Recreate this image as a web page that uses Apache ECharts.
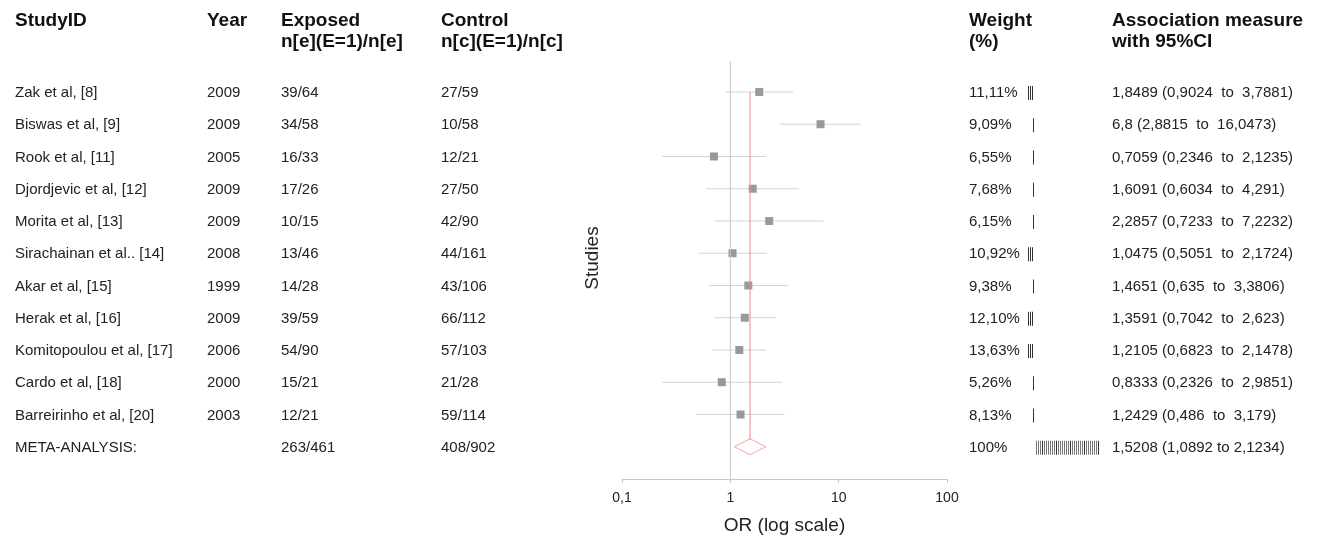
<!DOCTYPE html>
<html>
<head>
<meta charset="utf-8">
<script src="https://cdn.jsdelivr.net/npm/echarts@6/dist/echarts.min.js"></script>
<style>
  html, body { margin: 0; padding: 0; background: #fff; }
  #chart { width: 1326px; height: 537px; }
</style>
</head>
<body>
<div id="chart"></div>
<script>
// forest plot data
const studies = ['Zak et al, [8]', 'Biswas et al, [9]', 'Rook et al, [11]', 'Djordjevic et al, [12]', 'Morita et al, [13]',
  'Sirachainan et al.. [14]', 'Akar et al, [15]', 'Herak et al, [16]', 'Komitopoulou et al, [17]', 'Cardo et al, [18]',
  'Barreirinho et al, [20]', 'META-ANALYSIS:']
const years = ['2009', '2009', '2005', '2009', '2009', '2008', '1999', '2009', '2006', '2000', '2003', '']
const exposed = ['39/64', '34/58', '16/33', '17/26', '10/15', '13/46', '14/28', '39/59', '54/90', '15/21', '12/21', '263/461']
const control = ['27/59', '10/58', '12/21', '27/50', '42/90', '44/161', '43/106', '66/112', '57/103', '21/28', '59/114', '408/902']
const weights = ['11,11%', '9,09%', '6,55%', '7,68%', '6,15%', '10,92%', '9,38%', '12,10%', '13,63%', '5,26%', '8,13%', '100%']
const barCounts = [3, 1, 1, 1, 1, 3, 1, 3, 3, 1, 1, 32]
const orValues = [1.8489, 6.8, 0.7059, 1.6091, 2.2857, 1.0475, 1.4651, 1.3591, 1.2105, 0.8333, 1.2429]
const ciLow = [0.9024, 2.8815, 0.2346, 0.6034, 0.7233, 0.5051, 0.635, 0.7042, 0.6823, 0.2326, 0.486]
const ciHigh = [3.7881, 16.0473, 2.1235, 4.291, 7.2232, 2.1724, 3.3806, 2.623, 2.1478, 2.9851, 3.179]
const meta = { or: 1.5208, lo: 1.0892, hi: 2.1234 }

const font = "'Liberation Sans', Arial, sans-serif"
const metaRow = studies.length - 1
const fmt = (v) => String(v).replace('.', ',')
const assoc = orValues.map((v, i) => fmt(v) + ' (' + fmt(ciLow[i]) + '  to  ' + fmt(ciHigh[i]) + ')')
assoc.push(fmt(meta.or) + ' (' + fmt(meta.lo) + ' to ' + fmt(meta.hi) + ')')

// text columns: pixel x, text per row
const columns = [
  { x: 15, list: studies },
  { x: 207, list: years },
  { x: 281, list: exposed },
  { x: 441, list: control },
  { x: 969, list: weights },
  { x: 1112, list: assoc }
]
const headers = [
  { x: 15, lines: ['StudyID'] },
  { x: 207, lines: ['Year'] },
  { x: 281, lines: ['Exposed', 'n[e](E=1)/n[e]'] },
  { x: 441, lines: ['Control', 'n[c](E=1)/n[c]'] },
  { x: 969, lines: ['Weight', '(%)'] },
  { x: 1112, lines: ['Association measure', 'with 95%CI'] }
]

const chart = echarts.init(document.getElementById('chart'))

const headerGraphics = []
headers.forEach((h) => {
  h.lines.forEach((t, k) => {
    headerGraphics.push({
      type: 'text',
      left: h.x,
      top: 11 + k * 21,
      style: { text: t, font: 'bold 19px ' + font, fill: '#111' }
    })
  })
})
headerGraphics.push({
  type: 'text',
  x: 593,
  y: 258,
  rotation: Math.PI / 2,
  style: { text: 'Studies', font: '19px ' + font, fill: '#222', align: 'center', verticalAlign: 'middle' }
})

const option = {
  animation: false,
  grid: { left: 622, right: 379, top: 61, bottom: 58, outerBoundsMode: 'none' },
  xAxis: {
    type: 'log',
    logBase: 10,
    min: 0.1,
    max: 100,
    name: 'OR (log scale)',
    nameLocation: 'middle',
    nameGap: 37,
    nameTextStyle: { fontFamily: font, fontSize: 19, color: '#222' },
    axisLine: { onZero: false, lineStyle: { color: '#c8c8c8' } },
    axisTick: { show: true, length: 4, lineStyle: { color: '#c8c8c8' } },
    minorTick: { show: false },
    splitLine: { show: false },
    axisLabel: {
      fontFamily: font,
      fontSize: 14,
      color: '#222',
      margin: 12,
      formatter: (v) => fmt(v)
    }
  },
  yAxis: {
    type: 'value',
    inverse: true,
    min: -0.96,
    max: 12,
    show: false
  },
  graphic: headerGraphics,
  series: [
    {
      // reference line at OR = 1
      type: 'line',
      data: [[1, -0.96], [1, 12]],
      symbol: 'none',
      lineStyle: { color: '#c8c8c8', width: 1 },
      silent: true
    },
    {
      // pooled estimate line
      type: 'line',
      data: [[meta.or, 0], [meta.or, metaRow - 0.23]],
      symbol: 'none',
      lineStyle: { color: '#f08a8a', width: 1 },
      silent: true
    },
    {
      // study CI + box
      type: 'custom',
      data: orValues.map((v, i) => [i, v, ciLow[i], ciHigh[i]]),
      encode: { x: [1, 2, 3], y: 0 },
      renderItem: (params, api) => {
        const row = api.value(0)
        const c = api.coord([api.value(1), row])
        const lo = api.coord([api.value(2), row])
        const hi = api.coord([api.value(3), row])
        return {
          type: 'group',
          children: [
            { type: 'line', shape: { x1: lo[0], y1: lo[1], x2: hi[0], y2: hi[1] }, style: { stroke: '#d4d4d4', lineWidth: 1 } },
            { type: 'rect', shape: { x: c[0] - 4, y: c[1] - 4, width: 8, height: 8 }, style: { fill: '#999' } }
          ]
        }
      },
      z: 3
    },
    {
      // pooled diamond
      type: 'custom',
      data: [[metaRow, meta.or, meta.lo, meta.hi]],
      encode: { x: [1, 2, 3], y: 0 },
      renderItem: (params, api) => {
        const row = api.value(0)
        const c = api.coord([api.value(1), row])
        const lo = api.coord([api.value(2), row])
        const hi = api.coord([api.value(3), row])
        return {
          type: 'polygon',
          shape: { points: [[lo[0], c[1]], [c[0], c[1] - 8], [hi[0], c[1]], [c[0], c[1] + 8]] },
          style: { fill: 'none', stroke: '#f4a5a5', lineWidth: 1 }
        }
      }
    },
    {
      // table text columns, rows follow the y scale
      type: 'custom',
      data: studies.map((s, i) => [i, 1]),
      encode: { x: 1, y: 0 },
      clip: false,
      renderItem: (params, api) => {
        const i = params.dataIndex
        const y = api.coord([1, api.value(0)])[1] + 1
        const children = columns.map((col) => ({
          type: 'text',
          x: col.x,
          y: y,
          style: { text: col.list[i], font: '15px ' + font, fill: '#222', verticalAlign: 'middle' }
        }))
        // weight bars
        const n = barCounts[i]
        const startX = n === 1 ? 1033 : (n === 3 ? 1028 : 1036)
        for (let k = 0; k < n; k++) {
          children.push({
            type: 'rect',
            shape: { x: startX + k * 2, y: y - 7, width: 1, height: 14 },
            style: { fill: (n === 32 && k % 7 !== 3) ? '#777' : '#333' }
          })
        }
        return { type: 'group', children }
      }
    }
  ]
}
chart.setOption(option)
</script>
</body>
</html>
